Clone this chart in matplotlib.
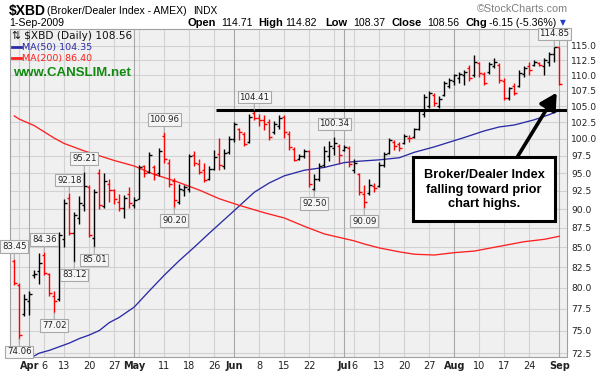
import numpy as np
import pandas as pd
import matplotlib
matplotlib.use("Agg")
import matplotlib.pyplot as plt
from matplotlib.patches import Rectangle
from matplotlib.ticker import FixedLocator, NullLocator, NullFormatter


# ==========================
# Figure size (pixels)
# ==========================

W, H = 604, 379


def px(x, y):
    # pixel position measured from top-left -> figure fraction
    return x / W, 1 - y / H


# ==========================
# Trading days
# ==========================

holidays = ["2009-04-10", "2009-05-25", "2009-07-03"]

dates = pd.bdate_range("2009-03-27", "2009-09-01")
dates = dates[~dates.isin(pd.to_datetime(holidays))]

pos = {d.strftime("%Y-%m-%d"): i for i, d in enumerate(dates)}


# ==========================
# Daily OHLC
# ==========================

opens = [
    83.2, 80.3, 76.9, 78.4, 81.5, 82.0, 84.0, 81.6, 79.0, 78.6,
    86.0, 91.5, 86.8, 88.8, 90.5, 93.0, 86.2, 95.0, 90.4, 93.5,
    92.6, 91.0, 90.2, 92.0, 90.5, 91.4, 96.0, 95.2, 95.8, 95.0,
    100.5, 96.5, 93.8, 91.0, 92.6, 92.8, 97.6, 96.3, 95.5, 94.2,
    95.6, 97.8, 96.0, 98.0, 100.0, 101.5, 100.8, 99.5, 104.0, 103.2,
    102.8, 102.5, 101.0, 102.0, 103.3, 100.8, 98.5, 97.0, 97.4, 98.2,
    92.8, 94.2, 96.2, 97.4, 98.6, 99.0, 98.4, 98.7, 95.5, 94.8,
    92.0, 92.2, 93.2, 93.2, 96.2, 97.9, 99.6, 99.3, 99.4, 100.2,
    100.3, 101.5, 103.8, 105.0, 106.8, 105.0, 106.8, 108.2, 109.0, 109.5,
    110.0, 111.2, 110.0, 112.0, 110.3, 110.5, 111.6, 111.8, 109.0, 106.3,
    108.2, 108.3, 110.3, 111.6, 111.7, 112.0, 111.5, 112.2, 113.5, 114.71,
]

highs = [
    83.45, 80.5, 79.2, 79.6, 82.1, 84.3, 84.36, 81.8, 79.6, 87.0,
    91.3, 92.18, 89.6, 91.8, 95.21, 93.3, 92.8, 95.6, 95.0, 94.1,
    92.8, 92.1, 91.9, 93.0, 91.7, 96.2, 96.2, 98.1, 96.1, 98.6,
    100.96, 97.0, 94.3, 93.4, 93.3, 97.7, 98.2, 97.0, 96.5, 96.0,
    98.4, 100.1, 98.5, 100.5, 102.6, 101.7, 101.0, 103.8, 104.41, 103.8,
    103.7, 103.0, 102.7, 103.6, 103.6, 101.2, 98.8, 97.7, 98.5, 98.4,
    94.8, 96.5, 98.9, 99.7, 100.34, 99.3, 99.1, 99.0, 97.0, 95.0,
    93.3, 94.1, 93.6, 96.6, 98.0, 100.1, 99.8, 99.6, 100.8, 100.6,
    101.7, 104.6, 106.9, 107.5, 107.2, 106.6, 109.0, 109.5, 110.3, 110.6,
    110.9, 111.7, 113.4, 112.3, 110.6, 112.3, 112.9, 112.0, 109.5, 108.1,
    108.7, 110.9, 111.5, 112.3, 112.6, 112.3, 112.9, 114.0, 114.85, 114.82,
]

lows = [
    80.3, 74.06, 76.6, 76.8, 81.1, 80.4, 81.5, 79.0, 77.02, 78.4,
    85.0, 86.6, 83.12, 88.0, 89.8, 86.3, 85.01, 90.0, 90.2, 91.0,
    90.7, 89.8, 88.8, 90.1, 90.1, 91.3, 94.4, 95.0, 94.0, 94.6,
    96.5, 93.0, 90.20, 90.7, 91.8, 92.4, 96.0, 94.8, 93.7, 94.0,
    95.4, 95.5, 95.6, 97.7, 99.5, 99.8, 98.9, 99.4, 102.8, 101.9,
    101.4, 99.9, 100.8, 101.5, 100.2, 98.4, 96.7, 96.9, 97.1, 93.0,
    92.50, 93.9, 95.8, 96.8, 97.6, 96.3, 98.2, 95.8, 95.0, 91.9,
    90.09, 91.9, 92.3, 93.0, 95.8, 97.7, 98.3, 98.2, 99.3, 99.6,
    100.1, 101.4, 103.3, 104.8, 105.1, 104.7, 106.6, 107.9, 108.4, 108.7,
    108.4, 109.0, 109.8, 109.8, 108.4, 110.3, 111.2, 108.7, 106.0, 106.0,
    106.8, 108.1, 109.8, 110.1, 111.5, 111.5, 110.1, 111.5, 112.3, 108.37,
]

closes = [
    80.5, 74.5, 78.6, 79.2, 81.7, 83.0, 81.8, 79.3, 78.4, 86.6,
    90.8, 86.8, 89.2, 90.8, 93.2, 86.6, 92.4, 90.5, 93.8, 92.6,
    91.3, 90.2, 91.5, 90.8, 91.2, 95.8, 95.0, 97.6, 94.8, 98.2,
    97.0, 93.4, 91.2, 92.8, 93.0, 97.4, 96.4, 95.2, 94.0, 95.6,
    97.3, 96.2, 97.9, 100.0, 102.3, 101.0, 99.3, 103.4, 103.1, 102.8,
    102.2, 100.3, 102.3, 103.2, 101.0, 98.8, 96.9, 97.4, 98.2, 93.4,
    94.2, 96.0, 98.2, 99.0, 99.4, 97.6, 98.8, 96.3, 96.5, 92.3,
    91.0, 93.3, 92.9, 96.2, 97.8, 99.8, 98.9, 98.6, 100.4, 100.1,
    101.5, 104.4, 106.5, 107.2, 105.6, 106.2, 108.7, 109.3, 110.0, 110.3,
    110.6, 109.5, 112.3, 110.4, 108.8, 111.9, 112.3, 109.2, 106.3, 107.9,
    107.2, 110.4, 111.2, 110.9, 112.3, 111.8, 112.5, 113.6, 114.71, 108.56,
]


# ==========================
# Moving averages (read at sample days)
# ==========================

ma50_dates = [
    "2009-04-01", "2009-04-03", "2009-04-07", "2009-04-09", "2009-04-14",
    "2009-04-16", "2009-04-20", "2009-04-22", "2009-04-24", "2009-04-28",
    "2009-05-01", "2009-05-06", "2009-05-11", "2009-05-14", "2009-05-19",
    "2009-05-22", "2009-06-01", "2009-06-05", "2009-06-10", "2009-06-15",
    "2009-06-19", "2009-06-25", "2009-07-01", "2009-07-07", "2009-07-13",
    "2009-07-17", "2009-07-22", "2009-07-28", "2009-07-31", "2009-08-05",
    "2009-08-11", "2009-08-14", "2009-08-19", "2009-08-25", "2009-08-28",
    "2009-09-01",
]
ma50_values = [
    71.9, 72.5, 72.8, 73.2, 73.6,
    74.1, 74.5, 75.0, 75.9, 76.5,
    77.7, 79.6, 81.5, 83.3, 85.0,
    86.8, 89.8, 92.3, 93.6, 94.6,
    95.4, 95.8, 96.5, 96.7, 96.9,
    97.2, 98.0, 98.8, 99.5, 100.2,
    101.2, 101.8, 102.1, 102.9, 103.7,
    104.35,
]

ma200_dates = [
    "2009-03-27", "2009-03-30", "2009-04-02", "2009-04-08", "2009-04-13",
    "2009-04-17", "2009-04-27", "2009-05-01", "2009-05-07", "2009-05-13",
    "2009-05-20", "2009-05-27", "2009-06-02", "2009-06-09", "2009-06-15",
    "2009-06-19", "2009-06-25", "2009-07-01", "2009-07-06", "2009-07-08",
    "2009-07-13", "2009-07-17", "2009-07-22", "2009-07-28", "2009-08-03",
    "2009-08-07", "2009-08-14", "2009-08-21", "2009-08-27", "2009-09-01",
]
ma200_values = [
    103.5, 103.0, 102.0, 100.1, 99.3,
    98.2, 96.8, 96.0, 94.8, 93.9,
    92.6, 91.4, 90.5, 89.5, 88.8,
    87.7, 86.7, 86.1, 85.8, 85.4,
    84.9, 84.4, 84.1, 84.0, 84.3,
    84.5, 85.1, 85.7, 86.0, 86.4,
]


# ==========================
# Labelled highs / lows
# ==========================

label_dates = [
    "2009-03-27", "2009-03-30", "2009-04-06", "2009-04-08", "2009-04-14",
    "2009-04-15", "2009-04-17", "2009-04-21", "2009-05-11", "2009-05-13",
    "2009-06-05", "2009-06-23", "2009-06-29", "2009-07-08", "2009-08-31",
]
label_values = [
    83.45, 74.06, 84.36, 77.02, 92.18,
    83.12, 95.21, 85.01, 100.96, 90.20,
    104.41, 92.50, 100.34, 90.09, 114.85,
]
label_sides = [
    "high", "low", "high", "low", "high",
    "low", "high", "low", "high", "low",
    "high", "low", "high", "low", "high",
]


# ==========================
# Axis ticks
# ==========================

tick_dates = [
    "2009-04-01", "2009-04-06", "2009-04-13", "2009-04-20", "2009-04-27",
    "2009-05-01", "2009-05-11", "2009-05-18", "2009-05-26",
    "2009-06-01", "2009-06-08", "2009-06-15", "2009-06-22",
    "2009-07-01", "2009-07-06", "2009-07-13", "2009-07-20", "2009-07-27",
    "2009-08-03", "2009-08-10", "2009-08-17", "2009-08-24",
    "2009-09-01",
]
tick_labels = [
    "Apr", "6", "13", "20", "27",
    "May", "11", "18", "26",
    "Jun", "8", "15", "22",
    "Jul", "6", "13", "20", "27",
    "Aug", "10", "17", "24",
    "Sep",
]
month_names = ["Apr", "May", "Jun", "Jul", "Aug", "Sep"]
extra_grid_dates = ["2009-03-30", "2009-05-04", "2009-06-29"]

y_ticks = [72.5, 75.0, 77.5, 80.0, 82.5, 85.0, 87.5, 90.0, 92.5,
           95.0, 97.5, 100.0, 102.5, 105.0, 107.5, 110.0, 112.5, 115.0]

resistance_level = 104.45
resistance_start = "2009-05-27"


# ==========================
# Figure
# ==========================

fig = plt.figure(figsize=(W / 100, H / 100), dpi=100)
fig.patch.set_facecolor("white")

ax = fig.add_axes([10 / W, 22 / H, 557 / W, 328 / H])
ax.set_facecolor("#F0F0F0")
ax.set_yscale("log")

for s in ax.spines.values():
    s.set_color("#A0A0A0")
    s.set_linewidth(0.8)

x = np.arange(len(dates))

# grid
ax.hlines(y_ticks, -5, 120, color="#D2D2D2", lw=0.8, zorder=0)

for d in tick_dates + extra_grid_dates:
    col = "#D2D2D2"
    if d in tick_dates and tick_labels[tick_dates.index(d)] in month_names:
        col = "#A8A8A8"
    ax.axvline(pos[d], color=col, lw=0.8, zorder=0)


# ==========================
# OHLC bars
# ==========================

bar_colors = []
for i in range(len(closes)):
    if i == 0 or closes[i] < closes[i - 1]:
        bar_colors.append("#FF0000")
    else:
        bar_colors.append("#000000")

ax.vlines(x, lows, highs, colors=bar_colors, lw=1.0, zorder=3)
ax.hlines(opens, x - 0.5, x, colors=bar_colors, lw=1.0, zorder=3)
ax.hlines(closes, x, x + 0.5, colors=bar_colors, lw=1.0, zorder=3)


# ==========================
# Moving averages
# ==========================

ax.plot([pos[d] for d in ma50_dates], ma50_values,
        color="#2B2BA6", lw=0.95, zorder=2)

ax.plot([pos[d] for d in ma200_dates], ma200_values,
        color="#FF2020", lw=0.95, zorder=2)


# resistance line
ax.hlines(resistance_level, pos[resistance_start] - 0.6, 120,
          color="black", lw=2.2, zorder=4)


# ==========================
# High / low callouts
# ==========================

for d, v, side in zip(label_dates, label_values, label_sides):

    i = pos[d]

    if side == "high":
        off = (0, 6)
        va = "bottom"
    else:
        off = (0, -6)
        va = "top"

    ax.annotate(
        f"{v:.2f}",
        xy=(i, v),
        xytext=off,
        textcoords="offset points",
        ha="center",
        va=va,
        fontsize=6.2,
        color="#222222",
        bbox=dict(boxstyle="square,pad=0.2", fc="#F6F6F6",
                  ec="#A8A8A8", lw=0.8),
        arrowprops=dict(arrowstyle="-", color="#A8A8A8", lw=0.8,
                        shrinkA=0, shrinkB=0),
        zorder=6,
        annotation_clip=False,
    )


# ==========================
# Axes limits and ticks
# ==========================

ax.set_xlim(-0.86, 110.54)
ax.set_ylim(72.08, 117.92)

ax.yaxis.set_major_locator(FixedLocator(y_ticks))
ax.yaxis.set_minor_locator(NullLocator())
ax.yaxis.set_minor_formatter(NullFormatter())
ax.set_yticklabels([f"{v:.1f}" for v in y_ticks])
ax.yaxis.tick_right()
ax.tick_params(axis="y", length=0, pad=3, labelsize=6.6, colors="#222222")

ax.set_xticks([pos[d] for d in tick_dates])
ax.set_xticklabels(tick_labels)
ax.tick_params(axis="x", length=0, pad=3, labelsize=7, colors="#222222")

for lab in ax.get_xticklabels():
    if lab.get_text() in month_names:
        lab.set_fontweight("bold")


# ==========================
# Legend text inside plot
# ==========================

ax.text(*px(12, 0), "", transform=fig.transFigure)

fig.text(*px(12, 39), "\u21c5 $XBD (Daily) 108.56", fontsize=7.6,
         color="#111111", va="baseline")

ax.plot([2 / 557, 11 / 557], [1 - 18 / 328, 1 - 18 / 328],
        transform=ax.transAxes, color="#2B2BA6", lw=2.0, clip_on=False)
fig.text(*px(22, 50), "MA(50) 104.35", fontsize=6.8,
         color="#2B2BA6", va="baseline")

ax.plot([2 / 557, 11 / 557], [1 - 29 / 328, 1 - 29 / 328],
        transform=ax.transAxes, color="#FF2020", lw=2.0, clip_on=False)
fig.text(*px(22, 61), "MA(200) 86.40", fontsize=6.8,
         color="#FF2020", va="baseline")

fig.text(*px(13, 76), "www.CANSLIM.net", fontsize=9.5,
         family="Liberation Sans", weight="bold",
         color="#118A11", va="baseline")


# ==========================
# Header
# ==========================

fig.text(*px(9, 15), "$XBD", fontsize=10, family="Liberation Sans",
         weight="bold", va="baseline")
fig.text(*px(47, 14), "(Broker/Dealer Index - AMEX)", fontsize=7.6,
         family="Liberation Sans", va="baseline")
fig.text(*px(193, 14), "INDX", fontsize=7.3,
         family="Liberation Sans", va="baseline")

fig.text(*px(9, 26), "1-Sep-2009", fontsize=7.6,
         family="Liberation Sans", va="baseline")

stats = [
    (188, "Open", True), (221, "114.71", False),
    (258, "High", True), (285, "114.82", False),
    (325, "Low", True), (353, "108.37", False),
    (391, "Close", True), (427, "108.56", False),
    (465, "Chg", True), (489, "-6.15 (-5.36%)", False),
]
for sx, s, bold in stats:
    fig.text(*px(sx, 26), s, fontsize=8.0 if bold else 7.6,
             family="Liberation Sans",
             weight="bold" if bold else "normal", va="baseline")

fig.text(*px(563, 25), "\u25bc", fontsize=5.5, color="#1F3FD0",
         va="baseline", ha="center")

fig.text(*px(477, 12), "\u00a9StockCharts.com", fontsize=7.8,
         family="Liberation Sans", color="#808080", va="baseline")


# ==========================
# Comment box and arrow
# ==========================

ax.annotate(
    "",
    xy=(556.7, H - 92.7),
    xycoords="figure pixels",
    xytext=(516.7, H - 158),
    textcoords="figure pixels",
    arrowprops=dict(arrowstyle="-|>,head_length=1.0,head_width=0.55",
                    color="black", lw=2.6, mutation_scale=10,
                    shrinkA=0, shrinkB=0),
    zorder=7,
)

box = Rectangle(px(413, 221), 142 / W, 64 / H, transform=fig.transFigure,
                fc="white", ec="black", lw=2.2, zorder=8)
fig.add_artist(box)

box_lines = ["Broker/Dealer Index", "falling toward prior", "chart highs."]
box_baselines = [177.5, 192.5, 207]

for t, by in zip(box_lines, box_baselines):
    fig.text(*px(484, by), t, fontsize=9.2, family="Liberation Sans",
             weight="bold", ha="center", va="baseline", zorder=9)


fig.savefig("out.png", dpi=100, facecolor="white")
